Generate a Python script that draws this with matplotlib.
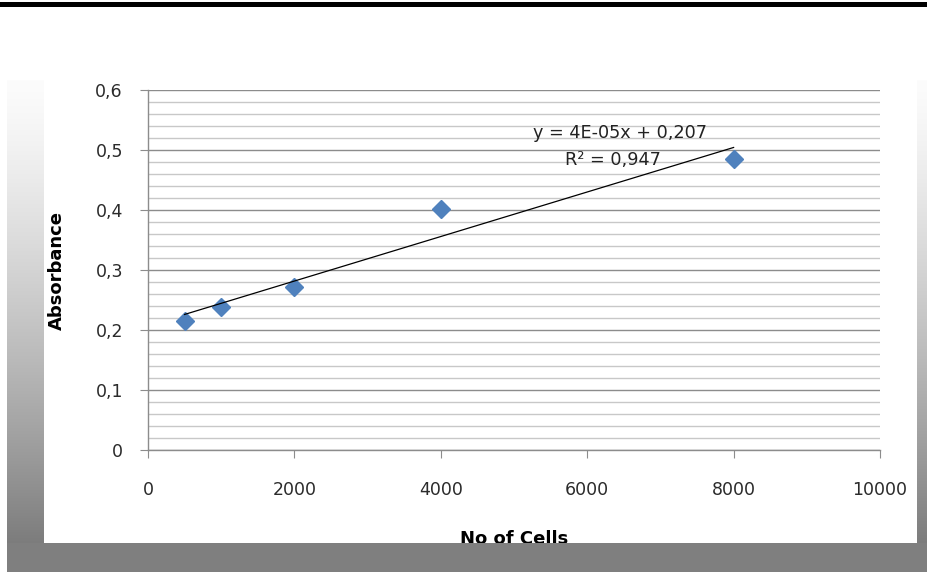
import numpy as np
import matplotlib
matplotlib.use("Agg")
import matplotlib.pyplot as plt
from matplotlib.ticker import MultipleLocator, FuncFormatter

# datos
cells = [500, 1000, 2000, 4000, 8000]
absorbance = [0.215, 0.238, 0.272, 0.402, 0.485]
x_ticks = [0, 2000, 4000, 6000, 8000, 10000]
y_ticks = [0, 0.1, 0.2, 0.3, 0.4, 0.5, 0.6]
eq_text = "y = 4E-05x + 0,207"
r2_text = "R² = 0,947"

plt.rcParams['font.family'] = ['DejaVu Sans']

W, H = 928, 572
fig = plt.figure(figsize=(W / 100, H / 100), dpi=100)
fig.patch.set_facecolor('white')

ax = fig.add_axes([148 / W, 1 - 450 / H, 732 / W, 360 / H])
ax.set_facecolor('white')

# rejilla
ax.set_xlim(0, 10000)
ax.set_ylim(0, 0.6)
ax.set_xticks(x_ticks)
ax.set_yticks(y_ticks)
ax.yaxis.set_minor_locator(MultipleLocator(0.02))
ax.grid(True, which='major', axis='y', color='#8c8c8c', lw=1.0)
ax.grid(True, which='minor', axis='y', color='#c8c8c8', lw=1.0)
ax.set_axisbelow(True)
ax.yaxis.set_major_formatter(FuncFormatter(lambda v, p: ("%g" % round(v, 2)).replace('.', ',')))
ax.xaxis.set_major_formatter(FuncFormatter(lambda v, p: "%d" % v))

for s in ['top', 'right']:
    ax.spines[s].set_visible(False)
for s in ['left', 'bottom']:
    ax.spines[s].set_color('#8c8c8c')
    ax.spines[s].set_linewidth(1.0)
ax.tick_params(axis='y', which='major', length=6, color='#8c8c8c', pad=12,
               labelsize=12.5, labelcolor='#2b2b2b')
ax.tick_params(axis='y', which='minor', length=0)
ax.tick_params(axis='x', length=6, color='#8c8c8c', pad=16,
               labelsize=12.5, labelcolor='#2b2b2b')

# puntos
ax.plot(cells, absorbance, linestyle='none', marker='D', ms=9,
        color='#4f81bd', zorder=3)

# linea de tendencia
m, b = np.polyfit(cells, absorbance, 1)
xs = np.array([min(cells), max(cells)])
ax.plot(xs, m * xs + b, color='black', lw=0.9, zorder=4)

ax.text(6450, 0.528, eq_text, ha='center', va='center', fontsize=12.7, color='#222222')
ax.text(6350, 0.483, r2_text, ha='center', va='center', fontsize=12.7, color='#222222')

ax.set_xlabel("No of Cells", fontsize=13, fontweight='bold')
ax.set_ylabel("Absorbance", fontsize=13, fontweight='bold')
ax.xaxis.set_label_coords((514 - 148) / 732, (450 - 530) / 360)
ax.yaxis.set_label_coords((66 - 148) / 732, (450 - 270) / 360)

# marco gris con degradado
img = np.zeros((H, W, 4))
img[..., :3] = 1.0
yy = np.arange(H)
t = np.clip((yy - 80) / (568 - 80), 0, 1) ** 1.3
grad = (252 - 137 * t) / 255.0
for x0, x1 in [(7, 44), (917, W)]:
    img[80:, x0:x1, :3] = grad[80:, None, None]
    img[80:, x0:x1, 3] = 1.0
img[543:, 7:, :3] = 127 / 255.0
img[543:, 7:, 3] = 1.0
img[2:7, :, :3] = 0.0
img[2:7, :, 3] = 1.0

ov = fig.add_axes([0, 0, 1, 1], zorder=5)
ov.imshow(img, extent=[0, W, H, 0], interpolation='nearest', aspect='auto')
ov.set_xlim(0, W)
ov.set_ylim(H, 0)
ov.axis('off')
ov.patch.set_alpha(0)

fig.savefig("out.png", dpi=100)
